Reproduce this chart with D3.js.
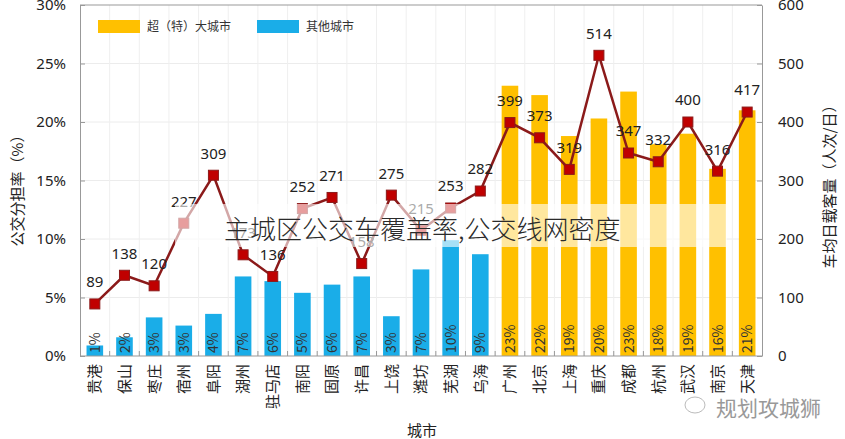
<!DOCTYPE html>
<html><head><meta charset="utf-8">
<script src="https://cdn.jsdelivr.net/npm/d3@7"></script>
<style>body{margin:0;background:#fff}svg{display:block;font-family:"Noto Sans CJK SC","Noto Sans",sans-serif}</style>
</head><body><svg id="c" width="845" height="439"></svg>
<script>
const cities = ["贵港","保山","枣庄","宿州","阜阳","湖州","驻马店","南阳","固原","许昌","上饶","潍坊","芜湖","乌海","广州","北京","上海","重庆","成都","杭州","武汉","南京","天津"];
const groups = ["o","o","o","o","o","o","o","o","o","o","o","o","o","o","b","b","b","b","b","b","b","b","b"];
const share = [0.9,1.6,3.3,2.6,3.6,6.8,6.4,5.4,6.1,6.8,3.4,7.4,9.9,8.7,23.1,22.3,18.8,20.3,22.6,18.1,19.0,16.0,21.0];
const shareLabels = ["1%","2%","3%","3%","4%","7%","6%","5%","6%","7%","3%","7%","10%","9%","23%","22%","19%","20%","23%","18%","19%","16%","21%"];
const riders = [89,138,120,227,309,173,136,252,271,158,275,215,253,282,399,373,319,514,347,332,400,316,417];
const leftTicks = [0,5,10,15,20,25,30];
const rightTicks = [0,100,200,300,400,500,600];
const legendItems = [["b","超（特）大城市"],["o","其他城市"]];
const colors = {b:"#FFC000", o:"#1AADE8"};

const svg = d3.select("#c");
const L=80,R=762,T=5,B=356;
const x = d3.scaleBand().domain(cities).range([L,R]);
const yL = d3.scaleLinear().domain([0,30]).range([B,T]);
const yR = d3.scaleLinear().domain([0,600]).range([B,T]);
const bw = x.bandwidth()*0.56;
const cx = d => x(d)+x.bandwidth()/2;

// grid
svg.append("g").selectAll("line").data(leftTicks.slice(1,-1)).join("line")
 .attr("x1",L).attr("x2",R).attr("y1",d=>yL(d)).attr("y2",d=>yL(d)).attr("stroke","#ececec");
svg.append("g").selectAll("line").data(cities.slice(1)).join("line")
 .attr("x1",d=>x(d)).attr("x2",d=>x(d)).attr("y1",T).attr("y2",B).attr("stroke","#efefef");

// bars
svg.append("g").selectAll("rect").data(cities).join("rect")
 .attr("x",(d)=>cx(d)-bw/2).attr("width",bw)
 .attr("y",(d,i)=>yL(share[i])).attr("height",(d,i)=>B-yL(share[i]))
 .attr("fill",(d,i)=>colors[groups[i]]);
svg.append("g").selectAll("text").data(cities).join("text")
 .attr("transform",d=>`translate(${cx(d)},${B-3}) rotate(-90)`)
 .attr("dy","0.36em").attr("font-size",14).attr("fill","#333")
 .text((d,i)=>shareLabels[i]);

// axes
const gl = svg.append("g").attr("transform",`translate(${L},0)`)
 .call(d3.axisLeft(yL).tickValues(leftTicks).tickFormat(d=>d+"%").tickSizeInner(-5).tickSizeOuter(0).tickPadding(14));
const gr = svg.append("g").attr("transform",`translate(${R},0)`)
 .call(d3.axisRight(yR).tickValues(rightTicks).tickSizeInner(-5).tickSizeOuter(0).tickPadding(16));
[gl,gr].forEach(g=>{g.select(".domain").attr("stroke","#999");g.selectAll(".tick line").attr("stroke","#999");
 g.selectAll(".tick text").attr("font-size",15).attr("fill","#222").attr("font-family","'Noto Sans','Noto Sans CJK SC',sans-serif");});
svg.append("line").attr("x1",L).attr("x2",R).attr("y1",T).attr("y2",T).attr("stroke","#999");
svg.append("line").attr("x1",L).attr("x2",R).attr("y1",B).attr("y2",B).attr("stroke","#999");
svg.append("g").selectAll("line").data(cities.slice(1)).join("line")
 .attr("x1",d=>x(d)).attr("x2",d=>x(d)).attr("y1",B).attr("y2",B-5).attr("stroke","#999");
svg.append("g").selectAll("text").data(cities).join("text")
 .attr("transform",d=>`translate(${cx(d)},364) rotate(-90)`)
 .attr("text-anchor","end").attr("dy","0.36em").attr("font-size",15).attr("fill","#222").text(d=>d);

// line
const line = d3.line().x((d,i)=>cx(cities[i])).y(d=>yR(d));
svg.append("path").datum(riders).attr("d",line).attr("fill","none").attr("stroke","#8B1A1A").attr("stroke-width",2.5);
svg.append("g").selectAll("rect").data(riders).join("rect")
 .attr("x",(d,i)=>cx(cities[i])-5).attr("y",d=>yR(d)-5).attr("width",10).attr("height",10)
 .attr("fill","#C00000").attr("stroke","#8B1A1A");
svg.append("g").selectAll("text").data(riders).join("text")
 .attr("x",(d,i)=>cx(cities[i])).attr("y",d=>yR(d)-22).attr("dy","0.36em")
 .attr("text-anchor","middle").attr("font-size",15).attr("fill","#222")
 .attr("font-family","'Noto Sans',sans-serif").text(d=>d);

// legend
const lg = svg.append("g");
legendItems.forEach((it,i)=>{
  const lx = [98,257][i];
  lg.append("rect").attr("x",lx).attr("y",20).attr("width",42).attr("height",13).attr("fill",colors[it[0]]);
  lg.append("text").attr("x",lx+49).attr("y",27).attr("dy","0.36em").attr("font-size",12).attr("fill","#333").text(it[1]);
});

// axis titles
svg.append("text").attr("transform","translate(18,187) rotate(-90)").attr("text-anchor","middle").attr("dy","0.36em")
 .attr("font-size",15).attr("fill","#222").text("公交分担率（%）");
svg.append("text").attr("transform","translate(830,183) rotate(-90)").attr("text-anchor","middle").attr("dy","0.36em")
 .attr("font-size",15).attr("fill","#222").text("车均日载客量（人次/日）");
svg.append("text").attr("x",422).attr("y",431).attr("text-anchor","middle").attr("dy","0.36em")
 .attr("font-size",15).attr("fill","#222").text("城市");

// overlay band and caption
svg.append("rect").attr("x",175).attr("y",204).attr("width",552).attr("height",43).attr("fill","#fff").attr("opacity",0.62);
svg.append("text").attr("x",224).attr("y",239).attr("font-size",26).attr("fill","#2a2a2a").attr("font-weight",300)
 .text("主城区公交车覆盖率,公交线网密度");
// watermark
svg.append("ellipse").attr("cx",695).attr("cy",405).attr("rx",10).attr("ry",8).attr("fill","none").attr("stroke","#bbb");
svg.append("text").attr("x",716).attr("y",408).attr("dy","0.36em").attr("font-size",21).attr("fill","#999").text("规划攻城狮");
</script></body></html>
